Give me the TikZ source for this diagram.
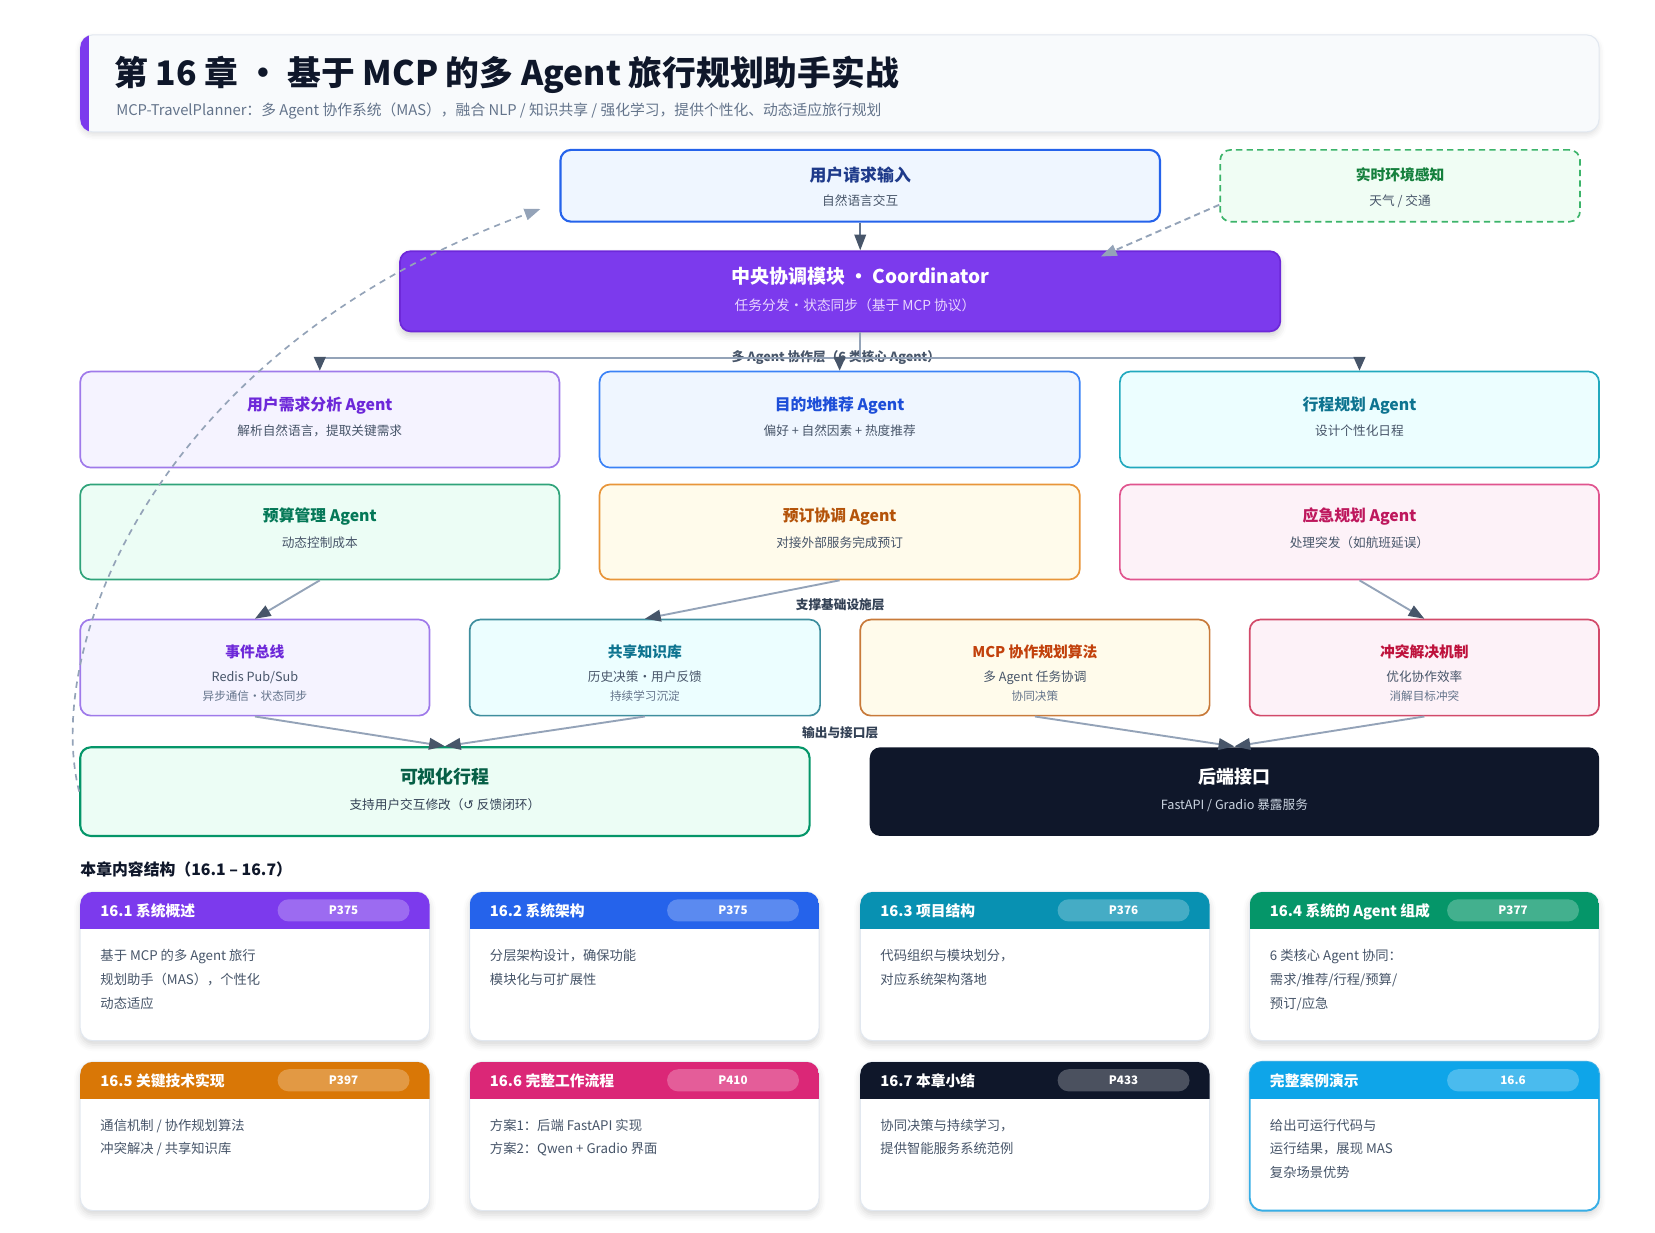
\documentclass[tikz,border=0pt]{standalone}
\usepackage{fontspec}
\setmainfont{Noto Sans CJK SC}
\newfontfamily\symfont{DejaVu Sans}
\usetikzlibrary{arrows.meta,shadows.blur,calc}
\definecolor{s900}{HTML}{0F172A}
\definecolor{s700}{HTML}{334155}
\definecolor{s600}{HTML}{475569}
\definecolor{s500}{HTML}{64748B}
\definecolor{s400}{HTML}{94A3B8}
\definecolor{s300}{HTML}{CBD5E1}
\definecolor{s200}{HTML}{E2E8F0}
\definecolor{s50}{HTML}{F8FAFC}
\definecolor{vio}{HTML}{7C3AED}
\definecolor{vio7}{HTML}{6D28D9}
\definecolor{vioB}{HTML}{9F7AEA}
\definecolor{vio50}{HTML}{F5F3FF}
\definecolor{lav}{HTML}{E9D5FF}
\definecolor{blu}{HTML}{2563EB}
\definecolor{bluB}{HTML}{3B82F6}
\definecolor{blu7}{HTML}{1D4ED8}
\definecolor{blu50}{HTML}{EFF6FF}
\definecolor{navy}{HTML}{1E3A8A}
\definecolor{envB}{HTML}{3CB46A}
\definecolor{env50}{HTML}{F0FDF4}
\definecolor{env7}{HTML}{15803D}
\definecolor{cyB}{HTML}{22A9BE}
\definecolor{cyB2}{HTML}{3E8E9E}
\definecolor{cy7}{HTML}{0E7490}
\definecolor{cy50}{HTML}{ECFEFF}
\definecolor{teal}{HTML}{0891B2}
\definecolor{grB}{HTML}{2FA37A}
\definecolor{gr6}{HTML}{059669}
\definecolor{gr7}{HTML}{047857}
\definecolor{gr8}{HTML}{065F46}
\definecolor{gr50}{HTML}{ECFDF5}
\definecolor{amB}{HTML}{E8953A}
\definecolor{amB2}{HTML}{C87A3A}
\definecolor{am6}{HTML}{D97706}
\definecolor{am7}{HTML}{B45309}
\definecolor{or7}{HTML}{C2410C}
\definecolor{am50}{HTML}{FFFBEB}
\definecolor{pkB}{HTML}{E0548F}
\definecolor{pkB2}{HTML}{D24A6A}
\definecolor{pk6}{HTML}{DB2777}
\definecolor{pk7}{HTML}{BE185D}
\definecolor{ro7}{HTML}{BE123C}
\definecolor{pk50}{HTML}{FDF2F8}
\definecolor{sky}{HTML}{0EA5E9}
\definecolor{skyB}{HTML}{38AEE6}
\newcommand\fsz[1]{\fontsize{#1}{#1}\selectfont}
\newcommand\CardFrame[8]{%
  \node[card, draw=#7, line width=#8, minimum width=331pt, minimum height=141pt] (#1) at ({#2+165.5},{#3+70.5}) {};
  \begin{scope}
    \clip[rounded corners=12pt] (#2,#3) rectangle ({#2+331},{#3+141});
    \fill[#4] (#2,#3) rectangle ({#2+331},{#3+35});
  \end{scope}
  \node[anchor=base west, font=\fsz{14}\bfseries, text=white] (#1t) at ({#2+19},{#3+23}) {#5};
  \node[pill] (#1p) at ({#2+249.5},{#3+17.5}) {#6};
}
\newcommand\BodyLine[4]{\node[anchor=base west, font=\fsz{12.6}, text=s600] (#1) at (#2,#3) {#4};}
\begin{document}
\begin{tikzpicture}[x=1pt,y=-1pt,
  every node/.style={inner sep=0pt},
  box/.style={rounded corners=10pt, line width=1.6pt},
  tb/.style={anchor=base, font=\fsz{15}\bfseries},
  ts/.style={anchor=base, font=\fsz{12}, text=s600},
  t2/.style={anchor=base, font=\fsz{12}, text=s600},
  t3/.style={anchor=base, font=\fsz{11}, text=s500},
  lay/.style={anchor=base, font=\fsz{12}\bfseries, text=s700},
  conn/.style={draw=s400, line width=1.8pt, -{Triangle[length=15pt,width=11pt,color=s600]}},
  card/.style={rounded corners=12pt, fill=white, blur shadow={shadow xshift=0pt, shadow yshift=-4pt, shadow blur radius=6pt, shadow opacity=16}},
  pill/.style={rounded corners=10.5pt, minimum width=125pt, minimum height=21pt, fill=white, fill opacity=0.25, text opacity=1, text=white, font=\fsz{11}\bfseries, text height=8pt, text depth=0pt},
]
\useasboundingbox (0,0) rectangle (1568,1168);
% ---------- header
\node[rounded corners=12pt, draw=s200, line width=1pt, fill=s50, minimum width=1439pt, minimum height=92pt,
  blur shadow={shadow xshift=0pt, shadow yshift=-3pt, shadow blur radius=5pt, shadow opacity=12}] (hdr) at (795.5,79) {};
\begin{scope}
  \clip[rounded corners=12pt] (76,33) rectangle (1515,125);
  \fill[vio] (76,33) rectangle (84,125);
\end{scope}
\node[anchor=base west, font=\fsz{32}\bfseries, text=s900] (title) at (108,81) {第 16 章 · 基于 MCP 的多 Agent 旅行规划助手实战};
\node[anchor=base west, font=\fsz{14}, text=s500] (subtitle) at (110,109) {MCP-TravelPlanner：多 Agent 协作系统（MAS），融合 NLP / 知识共享 / 强化学习，提供个性化、动态适应旅行规划};
% ---------- top row
\node[box, draw=blu, fill=blu50, line width=2pt, minimum width=568pt, minimum height=68pt] (req) at (815,176) {};
\node[tb, font=\fsz{16}\bfseries, text=navy] (reqt) at (815,172) {用户请求输入};
\node[ts] (reqs) at (815,194.5) {自然语言交互};
\node[box, draw=envB, fill=env50, dash pattern=on 6pt off 4pt, minimum width=341pt, minimum height=68pt] (env) at (1326.5,176) {};
\node[tb, font=\fsz{14}\bfseries, text=env7] (envt) at (1326.5,171) {实时环境感知};
\node[ts] (envs) at (1326.5,194.5) {天气 / 交通};
% ---------- coordinator
\node[box, draw=vio7, fill=vio, minimum width=834pt, minimum height=76pt,
  blur shadow={shadow xshift=0pt, shadow yshift=-4pt, shadow blur radius=6pt, shadow opacity=18}] (coord) at (796,276) {};
\node[tb, font=\fsz{18}\bfseries, text=white] (coordt) at (815,268.5) {中央协调模块 · Coordinator};
\node[ts, font=\fsz{13}, text=lav] (coords) at (810,294) {任务分发·状态同步（基于 MCP 协议）};
\coordinate (envtip) at (1043,243);
\draw[draw=s500, line width=1.8pt, -{Triangle[length=15pt,width=11pt,color=s600]}] (req.south) -- (req.south |- coord.north);
\draw[draw=s400, line width=1.8pt, dash pattern=on 6pt off 4pt, -{Triangle[length=15pt,width=11pt]}] ([yshift=-18pt]env.west) -- (envtip);
% ---------- agents row 1
\node[box, draw=vioB, fill=vio50, minimum width=454pt, minimum height=91pt] (a1) at (303,397.5) {};
\node[tb, text=vio7] (a1t) at (303,388.5) {用户需求分析 Agent};
\node[ts] (a1s) at (303,412.5) {解析自然语言，提取关键需求};
\node[box, draw=bluB, fill=blu50, minimum width=455pt, minimum height=91pt] (a2) at (795.5,397.5) {};
\node[tb, text=blu7] (a2t) at (795.5,388.5) {目的地推荐 Agent};
\node[ts] (a2s) at (795.5,412.5) {偏好 + 自然因素 + 热度推荐};
\node[box, draw=cyB, fill=cy50, minimum width=454pt, minimum height=91pt] (a3) at (1288,397.5) {};
\node[tb, text=cy7] (a3t) at (1288,388.5) {行程规划 Agent};
\node[ts] (a3s) at (1288,412.5) {设计个性化日程};
% ---------- agents row 2
\node[box, draw=grB, fill=gr50, minimum width=454pt, minimum height=90pt] (b1) at (303,504) {};
\node[tb, text=gr7] (b1t) at (303,494.5) {预算管理 Agent};
\node[ts] (b1s) at (303,518.5) {动态控制成本};
\node[box, draw=amB, fill=am50, minimum width=455pt, minimum height=90pt] (b2) at (795.5,504) {};
\node[tb, text=am7] (b2t) at (795.5,494.5) {预订协调 Agent};
\node[ts] (b2s) at (795.5,518.5) {对接外部服务完成预订};
\node[box, draw=pkB, fill=pk50, minimum width=454pt, minimum height=90pt] (b3) at (1288,504) {};
\node[tb, text=pk7] (b3t) at (1288,494.5) {应急规划 Agent};
\node[ts] (b3s) at (1288,518.5) {处理突发（如航班延误）};
% ---------- infrastructure row
\node[box, draw=vioB, fill=vio50, minimum width=331pt, minimum height=91pt] (c1) at (241.5,632.5) {};
\node[tb, font=\fsz{14}\bfseries, text=vio7] (c1t) at (241.5,623) {事件总线};
\node[t2] (c1a) at (241.5,645.5) {Redis Pub/Sub};
\node[t3] (c1b) at (241.5,664) {异步通信·状态同步};
\node[box, draw=cyB2, fill=cy50, minimum width=332pt, minimum height=91pt] (c2) at (611,632.5) {};
\node[tb, font=\fsz{14}\bfseries, text=cy7] (c2t) at (611,623) {共享知识库};
\node[t2] (c2a) at (611,645.5) {历史决策·用户反馈};
\node[t3] (c2b) at (611,664) {持续学习沉淀};
\node[box, draw=amB2, fill=am50, minimum width=331pt, minimum height=91pt] (c3) at (980.5,632.5) {};
\node[tb, font=\fsz{14}\bfseries, text=or7] (c3t) at (980.5,623) {MCP 协作规划算法};
\node[t2] (c3a) at (980.5,645.5) {多 Agent 任务协调};
\node[t3] (c3b) at (980.5,664) {协同决策};
\node[box, draw=pkB2, fill=pk50, minimum width=331pt, minimum height=91pt] (c4) at (1349.5,632.5) {};
\node[tb, font=\fsz{14}\bfseries, text=ro7] (c4t) at (1349.5,623) {冲突解决机制};
\node[t2] (c4a) at (1349.5,645.5) {优化协作效率};
\node[t3] (c4b) at (1349.5,664) {消解目标冲突};
% ---------- output row
\node[box, draw=gr6, fill=gr50, line width=2pt, minimum width=691pt, minimum height=84pt] (d1) at (421.5,750) {};
\node[tb, font=\fsz{17}\bfseries, text=gr8] (d1t) at (421.5,742) {可视化行程};
\node[ts, text=s700] (d1s) at (421.5,766.5) {支持用户交互修改（{\symfont ↺} 反馈闭环）};
\node[box, fill=s900, minimum width=691pt, minimum height=84pt] (d2) at (1169.5,750) {};
\node[tb, font=\fsz{17}\bfseries, text=white] (d2t) at (1169.5,742) {后端接口};
\node[ts, text=s300] (d2s) at (1169.5,766.5) {FastAPI / Gradio 暴露服务};
% ---------- layer labels
\node[lay, text=s600] (lay1) at (792,342.5) {多 Agent 协作层（6 类核心 Agent）};
\node[lay] (lay2) at (796,577.5) {支撑基础设施层};
\node[lay] (lay3) at (796,698.5) {输出与接口层};
% ---------- distribution
\coordinate (junc) at (815,339);
\draw[s400, line width=1.5pt] (coord.south -| junc) -- (junc);
\draw[s400, line width=2pt] (a1.north |- junc) -- (a3.north |- junc);
\foreach \n in {a1,a2,a3}
  \draw[draw=s400, line width=2pt, -{Triangle[length=13pt,width=11pt,color=s600]}] (\n.north |- junc) -- (\n.north);
% ---------- connectors
\draw[conn] (b1.south) -- (c1.north);
\draw[conn] (b2.south) -- (c2.north);
\draw[conn] (b3.south) -- (c4.north);
\draw[conn] (c1.south) -- (d1.north);
\draw[conn] (c2.south) -- (d1.north);
\draw[conn] (c3.south) -- (d2.north);
\draw[conn] (c4.south) -- (d2.north);
% ---------- feedback loop
\coordinate (fbend) at (512,198);
\draw[draw=s400, line width=1.6pt, dash pattern=on 6pt off 5pt, -{Triangle[length=15pt,width=11pt]}] (d1.west) .. controls (40,610) and (150,330) .. (fbend);
% ---------- chapter structure
\node[anchor=base west, font=\fsz{15}\bfseries, text=s900] (sec) at (76,829.5) {本章内容结构（16.1 – 16.7）};
\CardFrame{k1}{76}{845}{vio}{16.1 系统概述}{P375}{s200}{1pt}
\BodyLine{k1a}{95}{910}{基于 MCP 的多 Agent 旅行}
\BodyLine{k1b}{95}{933}{规划助手（MAS），个性化}
\BodyLine{k1c}{95}{955}{动态适应}
\CardFrame{k2}{445}{845}{blu}{16.2 系统架构}{P375}{s200}{1pt}
\BodyLine{k2a}{464}{910}{分层架构设计，确保功能}
\BodyLine{k2b}{464}{933}{模块化与可扩展性}
\CardFrame{k3}{815}{845}{teal}{16.3 项目结构}{P376}{s200}{1pt}
\BodyLine{k3a}{834}{910}{代码组织与模块划分，}
\BodyLine{k3b}{834}{933}{对应系统架构落地}
\CardFrame{k4}{1184}{845}{gr6}{16.4 系统的 Agent 组成}{P377}{s200}{1pt}
\BodyLine{k4a}{1203}{910}{6 类核心 Agent 协同：}
\BodyLine{k4b}{1203}{933}{需求/推荐/行程/预算/}
\BodyLine{k4c}{1203}{955}{预订/应急}
\CardFrame{k5}{76}{1006}{am6}{16.5 关键技术实现}{P397}{s200}{1pt}
\BodyLine{k5a}{95}{1071}{通信机制 / 协作规划算法}
\BodyLine{k5b}{95}{1093}{冲突解决 / 共享知识库}
\CardFrame{k6}{445}{1006}{pk6}{16.6 完整工作流程}{P410}{s200}{1pt}
\BodyLine{k6a}{464}{1071}{方案1：后端 FastAPI 实现}
\BodyLine{k6b}{464}{1093}{方案2：Qwen + Gradio 界面}
\CardFrame{k7}{815}{1006}{s900}{16.7 本章小结}{P433}{s200}{1pt}
\BodyLine{k7a}{834}{1071}{协同决策与持续学习，}
\BodyLine{k7b}{834}{1093}{提供智能服务系统范例}
\CardFrame{k8}{1184}{1006}{sky}{完整案例演示}{16.6}{skyB}{1.8pt}
\BodyLine{k8a}{1203}{1071}{给出可运行代码与}
\BodyLine{k8b}{1203}{1093}{运行结果，展现 MAS}
\BodyLine{k8c}{1203}{1116}{复杂场景优势}
\end{tikzpicture}
\end{document}
